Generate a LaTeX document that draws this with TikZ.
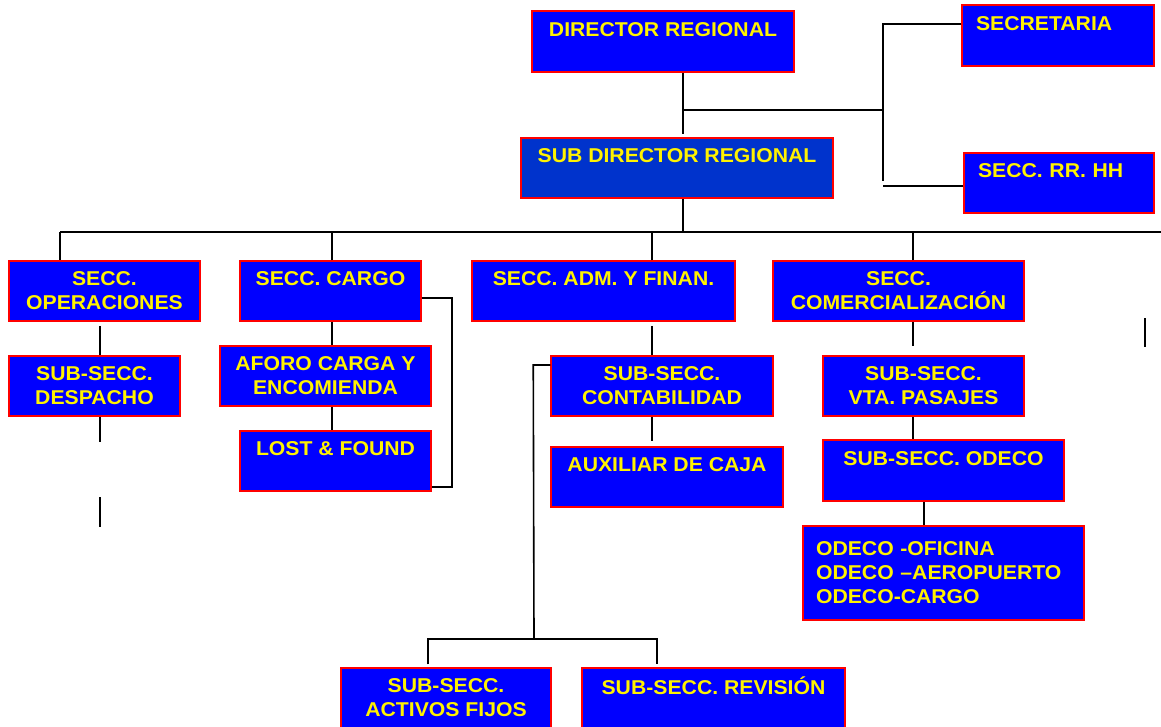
\documentclass[tikz,border=0pt]{standalone}
\usepackage{fontspec}
\setmainfont[FakeStretch=1.06]{Liberation Sans}
\usepackage{tikz}
\definecolor{subblue}{RGB}{0,51,204}

\begin{document}
\begin{tikzpicture}[x=1pt, y=-1pt,
    box/.style={draw=red, fill=blue, line width=1.5pt, text=yellow, inner sep=0pt,
      font=\bfseries\fontsize{20}{24}\selectfont, align=center},
    lbox/.style={box, align=left},
    link/.style={draw=black, line width=1.6pt}]
    \useasboundingbox (0,0) rectangle (1161,726);
    \clip (0,0) rectangle (1161,726);
    \fill[white] (0,0) rectangle (1161,726);

    \node[box, minimum width=262, minimum height=61] (dir) at (663, 41.5) {DIRECTOR REGIONAL\\~};
    \node[box, fill=subblue, minimum width=312, minimum height=60] (sub) at (677, 168) {SUB DIRECTOR REGIONAL\\~};
    \node[lbox, text width=164, minimum width=192, minimum height=61] (sec) at (1058, 35.5) {SECRETARIA\\~};
    \node[lbox, text width=162, minimum width=190, minimum height=60] (rrhh) at (1059, 183) {SECC. RR. HH\\~};

    \node[box, minimum width=191, minimum height=60] (ope) at (104.5, 291) {SECC.\\OPERACIONES};
    \node[box, minimum width=181, minimum height=60] (car) at (330.5, 291) {SECC. CARGO\\~};
    \node[box, minimum width=263, minimum height=60] (adm) at (603.5, 291) {SECC. ADM. Y FINAN.\\~};
    \node[box, minimum width=251, minimum height=60] (com) at (898.5, 291) {SECC.\\COMERCIALIZACIÓN};

    \node[box, minimum width=171, minimum height=60] (des) at (94.5, 386) {SUB-SECC.\\DESPACHO};
    \node[box, minimum width=211, minimum height=60] (afo) at (325.5, 376) {AFORO CARGA Y\\ENCOMIENDA};
    \node[box, minimum width=191, minimum height=60] (lost) at (335.5, 461) {LOST \& FOUND\\~};
    \node[box, minimum width=222, minimum height=60] (con) at (662, 386) {SUB-SECC.\\CONTABILIDAD};
    \node[box, minimum width=232, minimum height=60] (aux) at (667, 477) {AUXILIAR DE CAJA\\~};
    \node[box, minimum width=201, minimum height=60] (vta) at (923.5, 386) {SUB-SECC.\\VTA. PASAJES};
    \node[box, minimum width=241, minimum height=61] (ode) at (943.5, 470.5) {SUB-SECC. ODECO\\~};
    \node[lbox, text width=255, minimum width=281, minimum height=94] (odc) at (943.5, 573) {ODECO -OFICINA\\ODECO –AEROPUERTO\\ODECO-CARGO};
    \node[box, minimum width=210, minimum height=60] (act) at (446, 698) {SUB-SECC.\\ACTIVOS FIJOS};
    \node[box, minimum width=263, minimum height=60] (rev) at (713.5, 698) {SUB-SECC. REVISIÓN\\~};

    \coordinate (t1) at (683, 110);
    \coordinate (t2) at (883, 110);
    \coordinate (t3) at (883, 181);
    \coordinate (bus) at (683, 232);
    \coordinate (bl) at (60, 232);
    \coordinate (br) at (1161, 232);
    \coordinate (d1) at (100, 442);
    \coordinate (k) at (534, 639);

    \draw[link] ([xshift=20]dir.south) -- ([xshift=6, yshift=3]sub.north);
    \draw[link] (t1) -- (t2);
    \draw[link] ([yshift=11.5]sec.west) -| (t3);
    \draw[link] ([yshift=-3]rrhh.west) -- ([yshift=-3]rrhh.west -| t3);

    \draw[link] ([xshift=6]sub.south) -- (bus);
    \draw[link] (bl) -- (br);
    \draw[link] (bl) -- (bl |- ope.north);
    \draw[link] ([xshift=1.5]car.north) -- ([xshift=1.5]car.north |- bus);
    \draw[link] ([xshift=48.5]adm.north) -- ([xshift=48.5]adm.north |- bus);
    \draw[link] ([xshift=14.5]com.north) -- ([xshift=14.5]com.north |- bus);

    \draw[link] ([xshift=-4.5, yshift=-4]ope.south) -- ([xshift=5.5]des.north);
    \draw[link] ([xshift=5.5]des.south) -- (d1);
    \draw[link] (100, 497) -- (100, 527);

    \draw[link] ([xshift=1.5]car.south) -- ([xshift=6.5]afo.north);
    \draw[link] ([xshift=6.5]afo.south) -- ([xshift=-3.5]lost.north);
    \draw[link] ([yshift=-7]car.east) -- ++(30, 0) |- ([yshift=-26]lost.east);

    \draw[link] ([xshift=48.5, yshift=-4]adm.south) -- ([xshift=-10]con.north);
    \draw[link] ([xshift=-10]con.south) -- ([xshift=-15, yshift=5]aux.north);
    \draw[link] ([yshift=21]con.west) -- ++(-17, 0) -- (k);
    \draw[link] ([xshift=-18, yshift=3]act.north) |- (k) -| ([xshift=-56.5, yshift=3]rev.north);

    \draw[link] ([xshift=14.5]com.south) -- ([xshift=-10.5, yshift=9]vta.north);
    \draw[link] ([xshift=-10.5]vta.south) -- ([xshift=-30.5]ode.north);
    \draw[link] ([xshift=-19.5]ode.south) -- ([xshift=-19.5]odc.north);
    \draw[link] (1145, 318) -- (1145, 347);
\end{tikzpicture}
\end{document}
